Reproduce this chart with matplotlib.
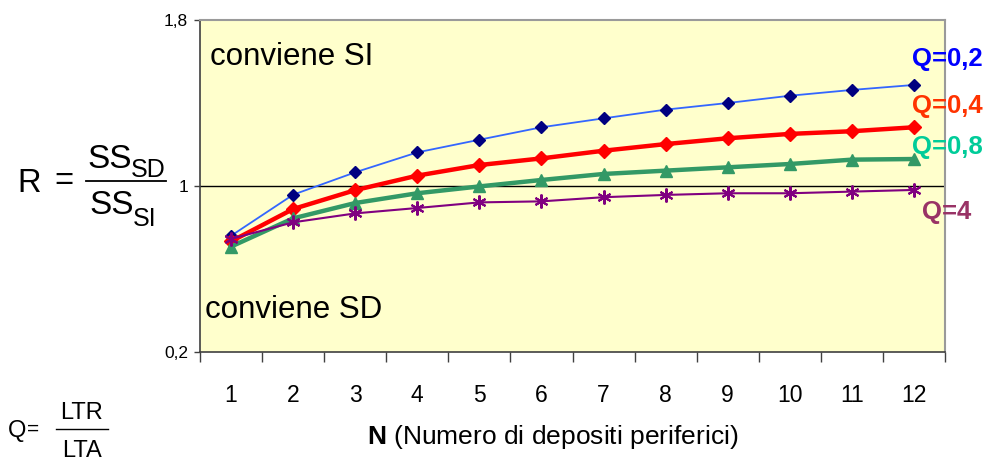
import matplotlib
matplotlib.use('Agg')
import matplotlib.pyplot as plt
from matplotlib.lines import Line2D
import numpy as np

plt.rcParams.update({
    'font.family': ['Liberation Sans', 'DejaVu Sans'],
    'mathtext.fontset': 'custom',
    'mathtext.rm': 'Liberation Sans',
    'mathtext.bf': 'Liberation Sans:bold',
})

# --- Data ---
N = list(range(1, 13))
r_q02 = [0.760, 0.958, 1.066, 1.162, 1.223, 1.283, 1.326, 1.368, 1.400, 1.435, 1.463, 1.487]
r_q04 = [0.733, 0.889, 0.980, 1.050, 1.101, 1.133, 1.170, 1.202, 1.230, 1.251, 1.264, 1.283]
r_q08 = [0.708, 0.844, 0.918, 0.965, 0.998, 1.029, 1.058, 1.074, 1.090, 1.106, 1.127, 1.130]
r_q4 = [0.745, 0.825, 0.868, 0.894, 0.921, 0.926, 0.946, 0.957, 0.965, 0.965, 0.973, 0.981]
y_ticks = [0.2, 1.0, 1.8]
y_ticklabels = ['0,2', '1', '1,8']
series_labels = ['Q=0,2', 'Q=0,4', 'Q=0,8', 'Q=4']

W, H = 989, 462
fig = plt.figure(figsize=(W / 100, H / 100), dpi=100)
ax = fig.add_axes([200 / W, 1 - 352 / H, 745 / W, 332 / H])
ax.set_facecolor('#FFFFCC')


def ftext(x, y, s, **kw):
    # place text using pixel coordinates of the 989x462 canvas
    fig.text(x / W, 1 - y / H, s, **kw)


def fbar(x0, x1, y, lw=1.2):
    fig.add_artist(Line2D([x0 / W, x1 / W], [1 - y / H, 1 - y / H],
                          transform=fig.transFigure, color='black', lw=lw))


# reference line at R = 1
ax.axhline(1.0, color='black', lw=1, zorder=1)

ax.plot(N, r_q02, color='#3366FF', lw=1.3, marker='D', ms=6,
        mfc='#000080', mec='#000080', zorder=3)
ax.plot(N, r_q04, color='#FF0000', lw=3.2, marker='D', ms=7.5,
        mfc='#FF0000', mec='#FF0000', zorder=4)
ax.plot(N, r_q08, color='#339966', lw=3.2, marker='^', ms=9,
        mfc='#339966', mec='#339966', zorder=5)
ax.plot(N, r_q4, color='#800080', lw=1.5, marker=(6, 2, 0), ms=10,
        mec='#800080', mew=1.5, zorder=6)

ax.set_xlim(0.5, 12.5)
ax.set_ylim(0.2, 1.8)

# category boundaries as tick marks, labels centred under the categories
ax.set_xticks(np.arange(0.5, 13, 1.0))
ax.set_xticklabels([])
ax.set_xticks(N, minor=True)
ax.set_xticklabels([str(n) for n in N], minor=True, fontsize=16.5)
ax.tick_params(axis='x', which='major', direction='out', length=7.2, width=1, color='#404040')
ax.tick_params(axis='x', which='minor', length=0, pad=23)

ax.set_yticks(y_ticks)
ax.set_yticklabels(y_ticklabels, fontsize=12.5)
ax.tick_params(axis='y', direction='out', length=4.5, width=1, color='#404040', pad=4)

for s in ['left', 'bottom']:
    ax.spines[s].set_color('#404040')
    ax.spines[s].set_linewidth(1.2)
for s in ['top', 'right']:
    ax.spines[s].set_color('#9a9a9a')
    ax.spines[s].set_linewidth(1.5)

# region annotations
ftext(210, 65, 'conviene SI', fontsize=22.5, ha='left', va='baseline')
ftext(205, 318, 'conviene SD', fontsize=22.5, ha='left', va='baseline')

# series labels at the right
label_colors = ['#0000FF', '#FF3300', '#00CC99', '#993366']
label_y = [59, 106, 147, 212]
for lab, c, yy in zip(series_labels, label_colors, label_y):
    ftext(947, yy, lab, color=c, fontsize=18.5, fontweight='bold',
          ha='center', va='center')

# y-axis title: R = SS_SD / SS_SI
ftext(17, 192, 'R', fontsize=23.5, ha='left', va='baseline')
ftext(54, 190, '=', fontsize=23.5, ha='left', va='baseline')
ftext(87, 168, 'SS', fontsize=24, ha='left', va='baseline')
ftext(131, 177, 'SD', fontsize=18, ha='left', va='baseline')
fbar(86, 166, 181, lw=1.3)
ftext(89, 214, 'SS', fontsize=24, ha='left', va='baseline')
ftext(133, 226, 'SI', fontsize=18, ha='left', va='baseline')

# Q = LTR / LTA
ftext(8, 437, 'Q', fontsize=17, ha='left', va='baseline')
ftext(27, 435, '=', fontsize=15, ha='left', va='baseline')
ftext(82, 419, 'LTR', fontsize=17, ha='center', va='baseline')
fbar(56, 108, 429, lw=1.0)
ftext(82, 457, 'LTA', fontsize=17, ha='center', va='baseline')

# x-axis title
ftext(553, 437, r'$\mathbf{N}$ (Numero di depositi periferici)',
      fontsize=19, ha='center', va='center')

fig.savefig('out.png', dpi=100)
